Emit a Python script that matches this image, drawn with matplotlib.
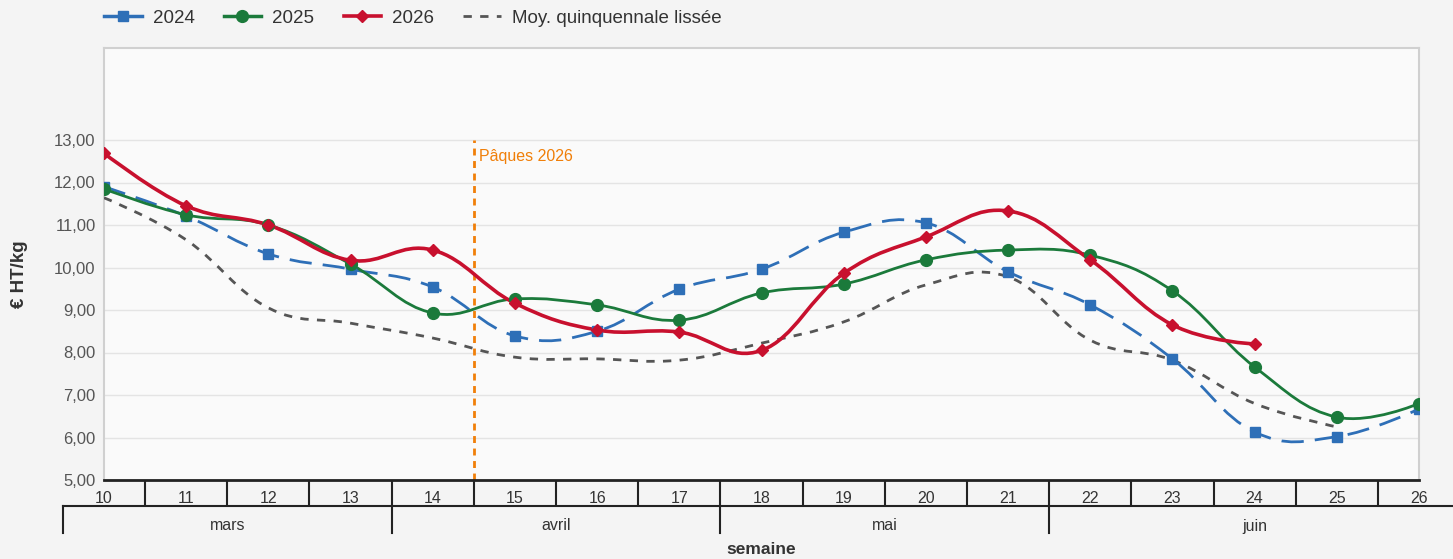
import matplotlib.pyplot as plt
import matplotlib.transforms as mtransforms
from matplotlib.path import Path
from matplotlib.patches import PathPatch
from matplotlib.lines import Line2D

plt.rcParams['font.family'] = ['Liberation Sans', 'DejaVu Sans']

# Données (prix moyen hebdomadaire, € HT/kg)
semaines = list(range(10, 27))
prix_2024 = [11.90, 11.21, 10.32, 9.96, 9.54, 8.39, 8.50, 9.49, 9.96, 10.83, 11.05,
             9.90, 9.12, 7.85, 6.13, 6.02, 6.67]
prix_2025 = [11.85, 11.24, 11.00, 10.08, 8.93, 9.26, 9.12, 8.76, 9.40, 9.61, 10.18,
             10.41, 10.29, 9.45, 7.66, 6.48, 6.80]
prix_2026 = [12.69, 11.45, 11.00, 10.17, 10.41, 9.16, 8.53, 8.48, 8.05, 9.86, 10.72,
             11.33, 10.18, 8.65, 8.20]
moy_5ans = [11.64, 10.65, 9.05, 8.69, 8.34, 7.89, 7.85, 7.82, 8.22, 8.72, 9.59,
            9.78, 8.29, 7.82, 6.80, 6.25]

mois = ['mars', 'avril', 'mai', 'juin']
mois_debut = [10, 14, 18, 22]
mois_fin = [13, 17, 21, 26]

paques_semaine = 14.5
yticks = [5, 6, 7, 8, 9, 10, 11, 12, 13]

bleu = '#2e6fb7'
vert = '#1b7a3b'
rouge = '#c8102e'
gris = '#555555'
orange = '#f07f09'


def spline(xs, ys, smoothing=1.5):
    # courbe lissée (Bézier cubiques, points de contrôle alignés sur la pente)
    n = len(xs)
    lc = [(x, y) for x, y in zip(xs, ys)]
    rc = [(x, y) for x, y in zip(xs, ys)]
    for i in range(1, n - 1):
        px, py = xs[i], ys[i]
        lx, ly = xs[i - 1], ys[i - 1]
        nx, ny = xs[i + 1], ys[i + 1]
        d = smoothing + 1
        lcx, lcy = (smoothing * px + lx) / d, (smoothing * py + ly) / d
        rcx, rcy = (smoothing * px + nx) / d, (smoothing * py + ny) / d
        corr = ((rcy - lcy) * (rcx - px)) / (rcx - lcx) + py - rcy
        lc[i] = (lcx, lcy + corr)
        rc[i] = (rcx, rcy + corr)
    verts = [(xs[0], ys[0])]
    codes = [Path.MOVETO]
    for i in range(1, n):
        verts += [rc[i - 1], lc[i], (xs[i], ys[i])]
        codes += [Path.CURVE4] * 3
    return Path(verts, codes)


fig = plt.figure(figsize=(14.53, 5.59), dpi=100, facecolor='#f4f4f4')
ax = fig.add_axes([104 / 1453, 1 - 480 / 559, 1315 / 1453, 432 / 559])
ax.set_facecolor('#fafafa')

series = [
    (moy_5ans, gris, 2.0, (0, (3, 3)), None, 0),
    (prix_2024, bleu, 2.0, (0, (8, 4)), 's', 6.5),
    (prix_2025, vert, 2.0, 'solid', 'o', 8.5),
    (prix_2026, rouge, 2.6, 'solid', 'D', 6),
]
for vals, col, lw, ls, mk, ms in series:
    xs = semaines[:len(vals)]
    ax.add_patch(PathPatch(spline(xs, vals), fill=False, edgecolor=col, lw=lw,
                           linestyle=ls, capstyle='butt', zorder=3))
    if mk:
        ax.plot(xs, vals, linestyle='none', marker=mk, color=col, markersize=ms,
                zorder=4)

# Pâques
ax.plot([paques_semaine, paques_semaine], [5, 13], color=orange, lw=2,
        linestyle=(0, (2.5, 2)), zorder=2)
ax.text(paques_semaine + 0.06, 12.6, 'Pâques 2026', color=orange, fontsize=11.5,
        va='center', ha='left')

# Axes
ax.set_xlim(10, 26)
ax.set_ylim(5, 5 + 432 / 42.5)
ax.set_yticks(yticks)
ax.set_yticklabels([f'{v:.2f}'.replace('.', ',') for v in yticks])
ax.tick_params(axis='y', length=0, labelsize=12, labelcolor='#555555', pad=6)
ax.grid(axis='y', color='#e4e4e4', linewidth=1)
ax.set_axisbelow(True)

ax.set_xticks([w + 0.5 for w in semaines[:-1]])
ax.set_xticklabels([])
ax.set_xticks(semaines, minor=True)
ax.set_xticklabels([str(w) for w in semaines], minor=True)
ax.tick_params(axis='x', which='major', length=19, width=1.5, color='#222222',
               direction='out')
ax.tick_params(axis='x', which='minor', length=0, labelsize=11.5,
               labelcolor='#333333', pad=8)

for s in ['top', 'left', 'right']:
    ax.spines[s].set_color('#d0d0d0')
    ax.spines[s].set_linewidth(1.5)
ax.spines['bottom'].set_color('#222222')
ax.spines['bottom'].set_linewidth(2)

# Mois
tr = mtransforms.blended_transform_factory(ax.transData, ax.transAxes)
y_ligne = -26 / 432
y_bas = -53 / 432
ax.plot([9.5, 27], [y_ligne, y_ligne], color='#222222', lw=1.5, transform=tr,
        clip_on=False)
for nom, d, f in zip(mois, mois_debut, mois_fin):
    ax.plot([d - 0.5, d - 0.5], [y_ligne, y_bas], color='#222222', lw=1.5,
            transform=tr, clip_on=False)
    ax.text((d + f) / 2, -46 / 432, nom, transform=tr, ha='center', va='center',
            fontsize=11.5, color='#333333')

ax.text(0.5, -69 / 432, 'semaine', transform=ax.transAxes, ha='center',
        va='center', fontsize=12.5, fontweight='bold', color='#333333')
fig.text(20 / 1453, 1 - 274 / 559, '€ HT/kg', rotation=90, ha='center',
         va='center', fontsize=13.5, fontweight='bold', color='#333333')

# Légende
handles = [
    Line2D([], [], color=bleu, lw=2.5, marker='s', markersize=6.5, linestyle='-'),
    Line2D([], [], color=vert, lw=2.5, marker='o', markersize=8.5),
    Line2D([], [], color=rouge, lw=2.6, marker='D', markersize=6),
    Line2D([], [], color=gris, lw=2, linestyle=(0, (3, 3))),
]
fig.legend(handles, ['2024', '2025', '2026', 'Moy. quinquennale lissée'],
           loc='center left', bbox_to_anchor=(104 / 1453, 1 - 18 / 559), ncol=4,
           frameon=False, fontsize=13.5, handlelength=2.0, handletextpad=0.6,
           columnspacing=1.55, borderpad=0, borderaxespad=0,
           labelcolor='#333333')

fig.savefig('out.png', dpi=100, facecolor=fig.get_facecolor())
